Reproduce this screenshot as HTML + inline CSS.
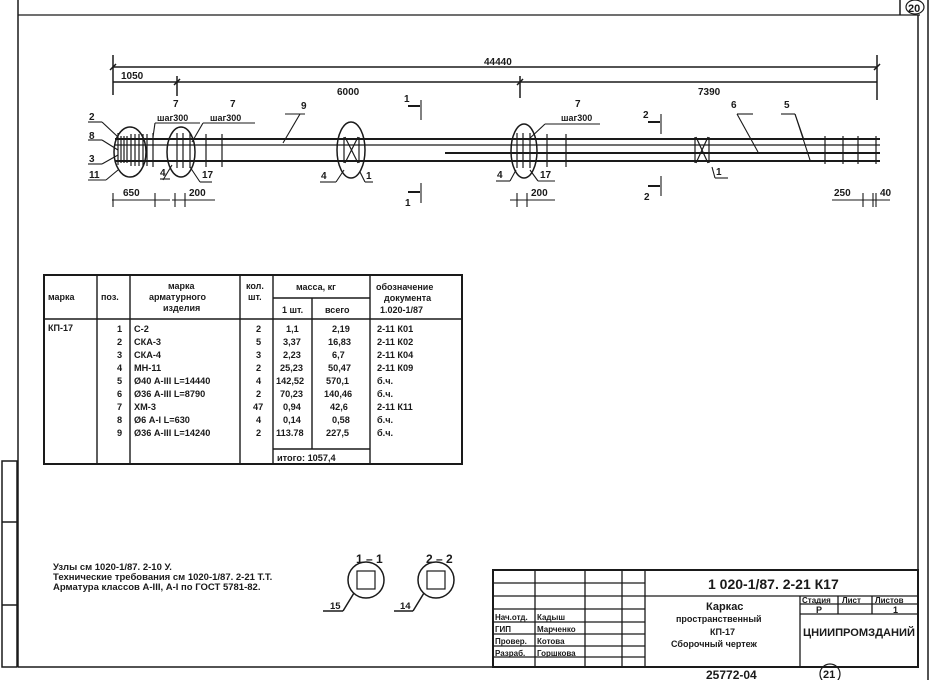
<!DOCTYPE html>
<html><head><meta charset="utf-8"><style>
html,body{margin:0;padding:0;background:#fff}
svg{display:block}
text{font-family:"Liberation Sans Narrow","Liberation Sans","DejaVu Sans",sans-serif;fill:#1a1a1a;font-weight:bold}
</style></head><body>
<svg width="931" height="680" viewBox="0 0 931 680" xmlns="http://www.w3.org/2000/svg">
<g stroke="#1a1a1a" fill="none" stroke-width="1.5">
<line x1="18" y1="0" x2="18" y2="667"/>
<line x1="18" y1="15" x2="920" y2="15" stroke-width="1.3"/>
<line x1="18" y1="667" x2="918" y2="667"/>
<line x1="918" y1="15" x2="918" y2="667"/>
<line x1="928" y1="0" x2="928" y2="680"/>
<line x1="900" y1="0" x2="900" y2="15"/>
<rect x="2" y="461" width="15" height="206"/>
<line x1="2" y1="522" x2="17" y2="522"/><line x1="2" y1="605" x2="17" y2="605"/>
<line x1="113" y1="67" x2="877" y2="67"/>
<line x1="113" y1="82" x2="877" y2="82"/>
<line x1="113" y1="55" x2="113" y2="95"/>
<line x1="877" y1="55" x2="877" y2="100"/>
<line x1="177" y1="76" x2="177" y2="96"/>
<line x1="520" y1="76" x2="520" y2="98"/>
<line x1="110" y1="70" x2="116" y2="64"/><line x1="874" y1="70" x2="880" y2="64"/>
<line x1="174" y1="85" x2="180" y2="79"/><line x1="517" y1="85" x2="523" y2="79"/>
<line x1="115" y1="139" x2="880" y2="139" stroke-width="2"/>
<line x1="115" y1="145" x2="880" y2="145" stroke-width="1.2"/>
<line x1="445" y1="153" x2="880" y2="153" stroke-width="2"/>
<line x1="115" y1="161" x2="880" y2="161" stroke-width="2"/>
<g stroke-width="1.2">
<line x1="118" y1="133" x2="118" y2="165"/><line x1="121" y1="136" x2="121" y2="163"/><line x1="124" y1="136" x2="124" y2="163"/><line x1="127" y1="136" x2="127" y2="163"/>
<line x1="131" y1="134" x2="131" y2="166"/><line x1="135" y1="134" x2="135" y2="166"/><line x1="139" y1="134" x2="139" y2="166"/><line x1="143" y1="134" x2="143" y2="166"/><line x1="147" y1="134" x2="147" y2="166"/>
<line x1="153" y1="133" x2="153" y2="167"/>
<line x1="177" y1="133" x2="177" y2="168"/><line x1="183" y1="133" x2="183" y2="168"/><line x1="190" y1="133" x2="190" y2="168"/>
<line x1="206" y1="134" x2="206" y2="167"/><line x1="222" y1="134" x2="222" y2="167"/>
<line x1="517" y1="133" x2="517" y2="168"/><line x1="523" y1="133" x2="523" y2="168"/><line x1="530" y1="133" x2="530" y2="168"/>
<line x1="547" y1="134" x2="547" y2="167"/><line x1="566" y1="134" x2="566" y2="167"/>
<line x1="345" y1="137" x2="358" y2="163"/><line x1="358" y1="137" x2="345" y2="163"/>
<line x1="344" y1="137" x2="344" y2="163"/><line x1="359" y1="137" x2="359" y2="163"/>
<line x1="696" y1="137" x2="708" y2="163"/><line x1="708" y1="137" x2="696" y2="163"/>
<line x1="695" y1="137" x2="695" y2="163"/><line x1="709" y1="137" x2="709" y2="163"/>
<line x1="825" y1="136" x2="825" y2="164"/><line x1="843" y1="136" x2="843" y2="164"/><line x1="858" y1="136" x2="858" y2="164"/><line x1="876" y1="136" x2="876" y2="164"/>
</g>
<ellipse cx="130" cy="152" rx="16" ry="25"/>
<ellipse cx="181" cy="152" rx="14" ry="25"/>
<ellipse cx="351" cy="150" rx="14" ry="28"/>
<ellipse cx="524" cy="151" rx="13" ry="27"/>
<g stroke-width="1.1">
<line x1="88" y1="122" x2="102" y2="122"/><line x1="102" y1="122" x2="118" y2="137"/>
<line x1="88" y1="140" x2="102" y2="140"/><line x1="102" y1="140" x2="118" y2="150"/>
<line x1="88" y1="164" x2="102" y2="164"/><line x1="102" y1="164" x2="118" y2="155"/>
<line x1="88" y1="180" x2="106" y2="180"/><line x1="106" y1="180" x2="118" y2="170"/>
<line x1="155" y1="123" x2="200" y2="123"/><line x1="155" y1="123" x2="153" y2="137"/>
<line x1="203" y1="123" x2="255" y2="123"/><line x1="203" y1="123" x2="192" y2="142"/>
<line x1="170" y1="179" x2="160" y2="179"/><line x1="163" y1="180" x2="172" y2="165"/>
<line x1="190" y1="167" x2="200" y2="182"/><line x1="200" y1="182" x2="212" y2="182"/>
<line x1="300" y1="114" x2="283" y2="143"/><line x1="285" y1="114" x2="305" y2="114"/>
<line x1="320" y1="182" x2="336" y2="182"/><line x1="336" y1="182" x2="344" y2="170"/>
<line x1="360" y1="172" x2="365" y2="182"/><line x1="365" y1="182" x2="373" y2="182"/>
<line x1="545" y1="124" x2="600" y2="124"/><line x1="545" y1="124" x2="528" y2="140"/>
<line x1="496" y1="181" x2="510" y2="181"/><line x1="510" y1="181" x2="516" y2="170"/>
<line x1="530" y1="170" x2="538" y2="181"/><line x1="538" y1="181" x2="555" y2="181"/>
<line x1="737" y1="114" x2="753" y2="114"/><line x1="737" y1="114" x2="758" y2="152"/>
<line x1="781" y1="114" x2="795" y2="114"/><line x1="795" y1="114" x2="804" y2="140"/><line x1="795" y1="114" x2="810" y2="160"/>
<line x1="712" y1="167" x2="715" y2="178"/><line x1="715" y1="178" x2="728" y2="178"/>
<line x1="421" y1="100" x2="421" y2="120"/><line x1="408" y1="106" x2="420" y2="106" stroke-width="2"/>
<line x1="421" y1="183" x2="421" y2="203"/><line x1="408" y1="192" x2="420" y2="192" stroke-width="2"/>
<line x1="661" y1="114" x2="661" y2="134"/><line x1="648" y1="122" x2="660" y2="122" stroke-width="2"/>
<line x1="661" y1="176" x2="661" y2="196"/><line x1="648" y1="186" x2="660" y2="186" stroke-width="2"/>
<line x1="112" y1="200" x2="170" y2="200"/><line x1="113" y1="193" x2="113" y2="207"/><line x1="155" y1="193" x2="155" y2="207"/>
<line x1="172" y1="200" x2="215" y2="200"/><line x1="175" y1="193" x2="175" y2="207"/><line x1="185" y1="193" x2="185" y2="207"/>
<line x1="510" y1="200" x2="555" y2="200"/><line x1="517" y1="193" x2="517" y2="207"/><line x1="527" y1="193" x2="527" y2="207"/>
<line x1="832" y1="200" x2="890" y2="200"/><line x1="863" y1="193" x2="863" y2="207"/><line x1="873" y1="193" x2="873" y2="207"/><line x1="876" y1="193" x2="876" y2="207"/>
</g>
<rect x="44" y="275" width="418" height="189" stroke-width="2"/>
<g stroke-width="1.4">
<line x1="97" y1="275" x2="97" y2="464"/><line x1="130" y1="275" x2="130" y2="464"/>
<line x1="240" y1="275" x2="240" y2="464"/><line x1="273" y1="275" x2="273" y2="464"/>
<line x1="312" y1="298" x2="312" y2="449"/><line x1="370" y1="275" x2="370" y2="464"/>
<line x1="273" y1="298" x2="370" y2="298"/>
<line x1="44" y1="319" x2="462" y2="319"/>
<line x1="273" y1="449" x2="370" y2="449"/>
</g>
<circle cx="366" cy="580" r="18"/><rect x="357" y="571" width="18" height="18" stroke-width="1.2"/>
<circle cx="436" cy="580" r="18"/><rect x="427" y="571" width="18" height="18" stroke-width="1.2"/>
<line x1="323" y1="611" x2="343" y2="611"/><line x1="343" y1="611" x2="354" y2="593"/>
<line x1="394" y1="611" x2="413" y2="611"/><line x1="413" y1="611" x2="424" y2="593"/>
<rect x="493" y="570" width="425" height="97" stroke-width="2"/>
<g stroke-width="1.3">
<line x1="535" y1="570" x2="535" y2="667"/><line x1="585" y1="570" x2="585" y2="667"/>
<line x1="622" y1="570" x2="622" y2="667"/><line x1="645" y1="570" x2="645" y2="667"/>
<line x1="493" y1="583" x2="645" y2="583"/><line x1="493" y1="596" x2="918" y2="596"/>
<line x1="493" y1="609" x2="645" y2="609"/><line x1="493" y1="622" x2="645" y2="622"/>
<line x1="493" y1="634" x2="645" y2="634"/><line x1="493" y1="646" x2="645" y2="646"/><line x1="493" y1="657" x2="645" y2="657"/>
<line x1="800" y1="596" x2="800" y2="667"/><line x1="800" y1="604" x2="918" y2="604"/>
<line x1="800" y1="614" x2="918" y2="614"/>
<line x1="838" y1="596" x2="838" y2="614"/><line x1="872" y1="596" x2="872" y2="614"/>
</g>
<circle cx="830" cy="674" r="10" stroke-width="1.2"/>
<ellipse cx="915" cy="7" rx="9" ry="7" stroke-width="1.2"/>
</g>
<g font-size="10">
<text x="484" y="65">44440</text>
<text x="121" y="79">1050</text>
<text x="337" y="95">6000</text>
<text x="698" y="95">7390</text>
<text x="173" y="107">7</text><text x="230" y="107">7</text><text x="301" y="109">9</text>
<text x="157" y="121" font-size="9">шаг300</text><text x="210" y="121" font-size="9">шаг300</text>
<text x="575" y="107">7</text><text x="561" y="121" font-size="9">шаг300</text>
<text x="89" y="120">2</text><text x="89" y="139">8</text><text x="89" y="162">3</text><text x="89" y="178">11</text>
<text x="160" y="176">4</text><text x="202" y="178">17</text>
<text x="321" y="179">4</text><text x="366" y="179">1</text>
<text x="497" y="178">4</text><text x="540" y="178">17</text>
<text x="716" y="175">1</text><text x="731" y="108">6</text><text x="784" y="108">5</text>
<text x="404" y="102">1</text><text x="405" y="206">1</text>
<text x="643" y="118">2</text><text x="644" y="200">2</text>
<text x="123" y="196">650</text><text x="189" y="196">200</text><text x="531" y="196">200</text>
<text x="834" y="196">250</text><text x="880" y="196">40</text>
<text x="908" y="12" font-size="11">20</text>
</g>
<g font-size="9">
<text x="48" y="300">марка</text><text x="101" y="300">поз.</text>
<text x="168" y="289">марка</text><text x="149" y="300">арматурного</text><text x="163" y="311">изделия</text>
<text x="246" y="289">кол.</text><text x="248" y="300">шт.</text>
<text x="296" y="290">масса, кг</text><text x="282" y="313">1 шт.</text><text x="325" y="313">всего</text>
<text x="376" y="290">обозначение</text><text x="384" y="301">документа</text><text x="380" y="313">1.020-1/87</text>
<text x="48" y="331">КП-17</text>
</g>
<g font-size="9.2">
<text x="117" y="332">1</text><text x="117" y="345">2</text><text x="117" y="358">3</text><text x="117" y="371">4</text><text x="117" y="384">5</text><text x="117" y="397">6</text><text x="117" y="410">7</text><text x="117" y="423">8</text><text x="117" y="436">9</text>
<text x="134" y="332">С-2</text><text x="134" y="345">СКА-3</text><text x="134" y="358">СКА-4</text><text x="134" y="371">МН-11</text>
<text x="134" y="384">Ø40 А-III  L=14440</text><text x="134" y="397">Ø36 А-III  L=8790</text><text x="134" y="410">ХМ-3</text>
<text x="134" y="423">Ø6 А-I    L=630</text><text x="134" y="436">Ø36 А-III  L=14240</text>
<text x="256" y="332">2</text><text x="256" y="345">5</text><text x="256" y="358">3</text><text x="256" y="371">2</text><text x="256" y="384">4</text><text x="256" y="397">2</text><text x="253" y="410">47</text><text x="256" y="423">4</text><text x="256" y="436">2</text>
<text x="286" y="332">1,1</text><text x="283" y="345">3,37</text><text x="283" y="358">2,23</text><text x="280" y="371">25,23</text><text x="276" y="384">142,52</text><text x="280" y="397">70,23</text><text x="283" y="410">0,94</text><text x="283" y="423">0,14</text><text x="276" y="436">113.78</text>
<text x="332" y="332">2,19</text><text x="328" y="345">16,83</text><text x="332" y="358">6,7</text><text x="328" y="371">50,47</text><text x="326" y="384">570,1</text><text x="324" y="397">140,46</text><text x="330" y="410">42,6</text><text x="332" y="423">0,58</text><text x="326" y="436">227,5</text>
<text x="377" y="332">2-11  К01</text><text x="377" y="345">2-11  К02</text><text x="377" y="358">2-11  К04</text><text x="377" y="371">2-11  К09</text>
<text x="377" y="384">б.ч.</text><text x="377" y="397">б.ч.</text><text x="377" y="410">2-11    К11</text><text x="377" y="423">б.ч.</text><text x="377" y="436">б.ч.</text>
<text x="277" y="461">итого: 1057,4</text>
</g>
<g font-size="9.5">
<text x="53" y="570">Узлы см 1020-1/87. 2-10 У.</text>
<text x="53" y="580">Технические требования см 1020-1/87. 2-21 Т.Т.</text>
<text x="53" y="590">Арматура классов А-III, А-I по ГОСТ 5781-82.</text>
<text x="356" y="563" font-size="12">1 – 1</text><text x="426" y="563" font-size="12">2 – 2</text>
<text x="330" y="609">15</text><text x="400" y="609">14</text>
</g>
<g font-size="9">
<text x="708" y="589" font-size="14">1 020-1/87. 2-21   К17</text>
<text x="706" y="610" font-size="11">Каркас</text>
<text x="676" y="622">пространственный</text>
<text x="710" y="635">КП-17</text>
<text x="671" y="647">Сборочный чертеж</text>
<text x="802" y="603" font-size="8">Стадия</text><text x="842" y="603" font-size="8">Лист</text><text x="875" y="603" font-size="8">Листов</text>
<text x="816" y="613">Р</text><text x="893" y="613">1</text>
<text x="803" y="636" font-size="11" textLength="112" lengthAdjust="spacingAndGlyphs">ЦНИИПРОМЗДАНИЙ</text>
<text x="495" y="620" font-size="8">Нач.отд.</text><text x="537" y="620" font-size="8">Кадыш</text>
<text x="495" y="632" font-size="8">ГИП</text><text x="537" y="632" font-size="8">Марченко</text>
<text x="495" y="644" font-size="8">Провер.</text><text x="537" y="644" font-size="8">Котова</text>
<text x="495" y="656" font-size="8">Разраб.</text><text x="537" y="656" font-size="8">Горшкова</text>
<text x="706" y="679" font-size="12">25772-04</text>
<text x="823" y="678" font-size="11">21</text>
</g>
</svg>
</body></html>
